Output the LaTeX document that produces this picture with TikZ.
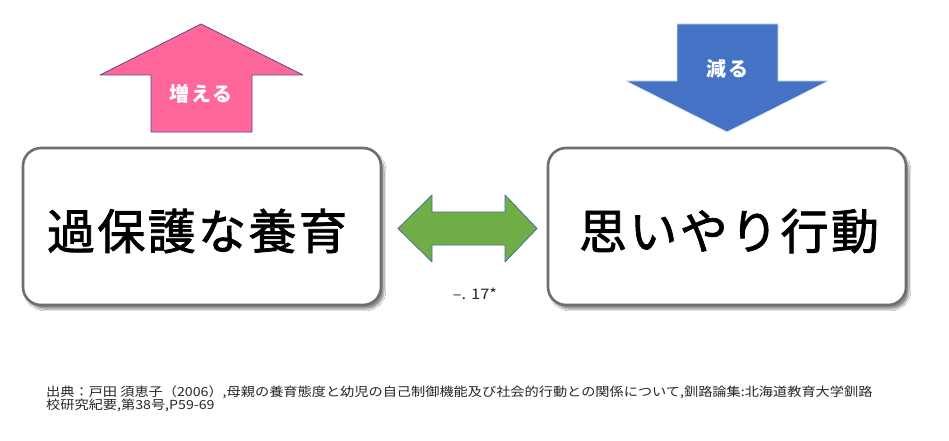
\documentclass[tikz,border=0pt]{standalone}
\usepackage{fontspec}
\newfontfamily\boxfont{Noto Sans CJK JP}[LetterSpace=5,FakeBold=1.6]
\newfontfamily\arrfont{Noto Sans CJK JP}[LetterSpace=10]
\newfontfamily\capfont{Noto Sans CJK JP}[FakeStretch=1.135]
\usetikzlibrary{shadows.blur}
\definecolor{pinkfill}{HTML}{FF6699}
\definecolor{pinkline}{HTML}{5A4A8F}
\definecolor{bluefill}{HTML}{4472C4}
\definecolor{blueline}{HTML}{D6E0F2}
\definecolor{greenfill}{HTML}{70AD47}
\definecolor{greenline}{HTML}{41719C}
\definecolor{boxline}{HTML}{6E6E6E}
\definecolor{captext}{HTML}{262626}
\tikzset{
  mainbox/.style={draw=boxline, line width=2.6pt, fill=white, rounded corners=18pt,
    blur shadow={shadow xshift=3pt, shadow yshift=-4pt, shadow blur steps=8, shadow opacity=45}},
  boxtext/.style={inner sep=0pt, font=\boxfont\fontsize{48}{52}\selectfont},
  arrlabel/.style={inner sep=0pt, text=white, font=\arrfont\bfseries\fontsize{20}{22}\selectfont},
  capstyle/.style={inner sep=0pt, anchor=west, text=captext, font=\capfont\fontsize{12.5}{14}\selectfont},
}
\begin{document}
\begin{tikzpicture}[x=1pt,y=-1pt]
\useasboundingbox (0,0) rectangle (949,441);
\fill[white] (0,0) rectangle (949,441);
% boxes
\node[mainbox, minimum width=358pt, minimum height=157pt] (L) at (202,226.5) {};
\node[mainbox, minimum width=358pt, minimum height=157pt] (R) at (727,226.5) {};
\node[boxtext] (Lt) at (197,231) {過保護な養育};
\node[boxtext] (Rt) at (729,231) {思いやり行動};
% up arrow
\draw[fill=pinkfill, draw=pinkline, line width=0.8pt, line join=round]
  (201,24) -- (303,75) -- (252,75) -- (252,132) -- (151,132) -- (151,75) -- (100,75) -- cycle;
\node[arrlabel] (inc) at (201,94) {増える};
% down arrow
\draw[fill=bluefill, draw=blueline, line width=0.7pt, line join=round]
  (677,24) -- (778,24) -- (778,81) -- (828,81) -- (727,132) -- (626,81) -- (677,81) -- cycle;
\node[arrlabel] (dec) at (727,69) {減る};
% double arrow
\draw[fill=greenfill, draw=greenline, line width=0.8pt, line join=round]
  (398,228.5) -- (432,195) -- (432,212) -- (505,212) -- (505,195) -- (537,228.5)
  -- (505,262) -- (505,245) -- (432,245) -- (432,262) -- cycle;
\node[inner sep=0pt, text=captext, font=\capfont\fontsize{14.5}{16}\selectfont] (r) at (475,294) {–. 17*};
% caption
\node[capstyle] (cap1) at (46,392) {出典：戸田 須恵子（2006）,母親の養育態度と幼児の自己制御機能及び社会的行動との関係について,釧路論集:北海道教育大学釧路};
\node[capstyle] (cap2) at (46,405) {校研究紀要,第38号,P59-69};
\end{tikzpicture}
\end{document}
